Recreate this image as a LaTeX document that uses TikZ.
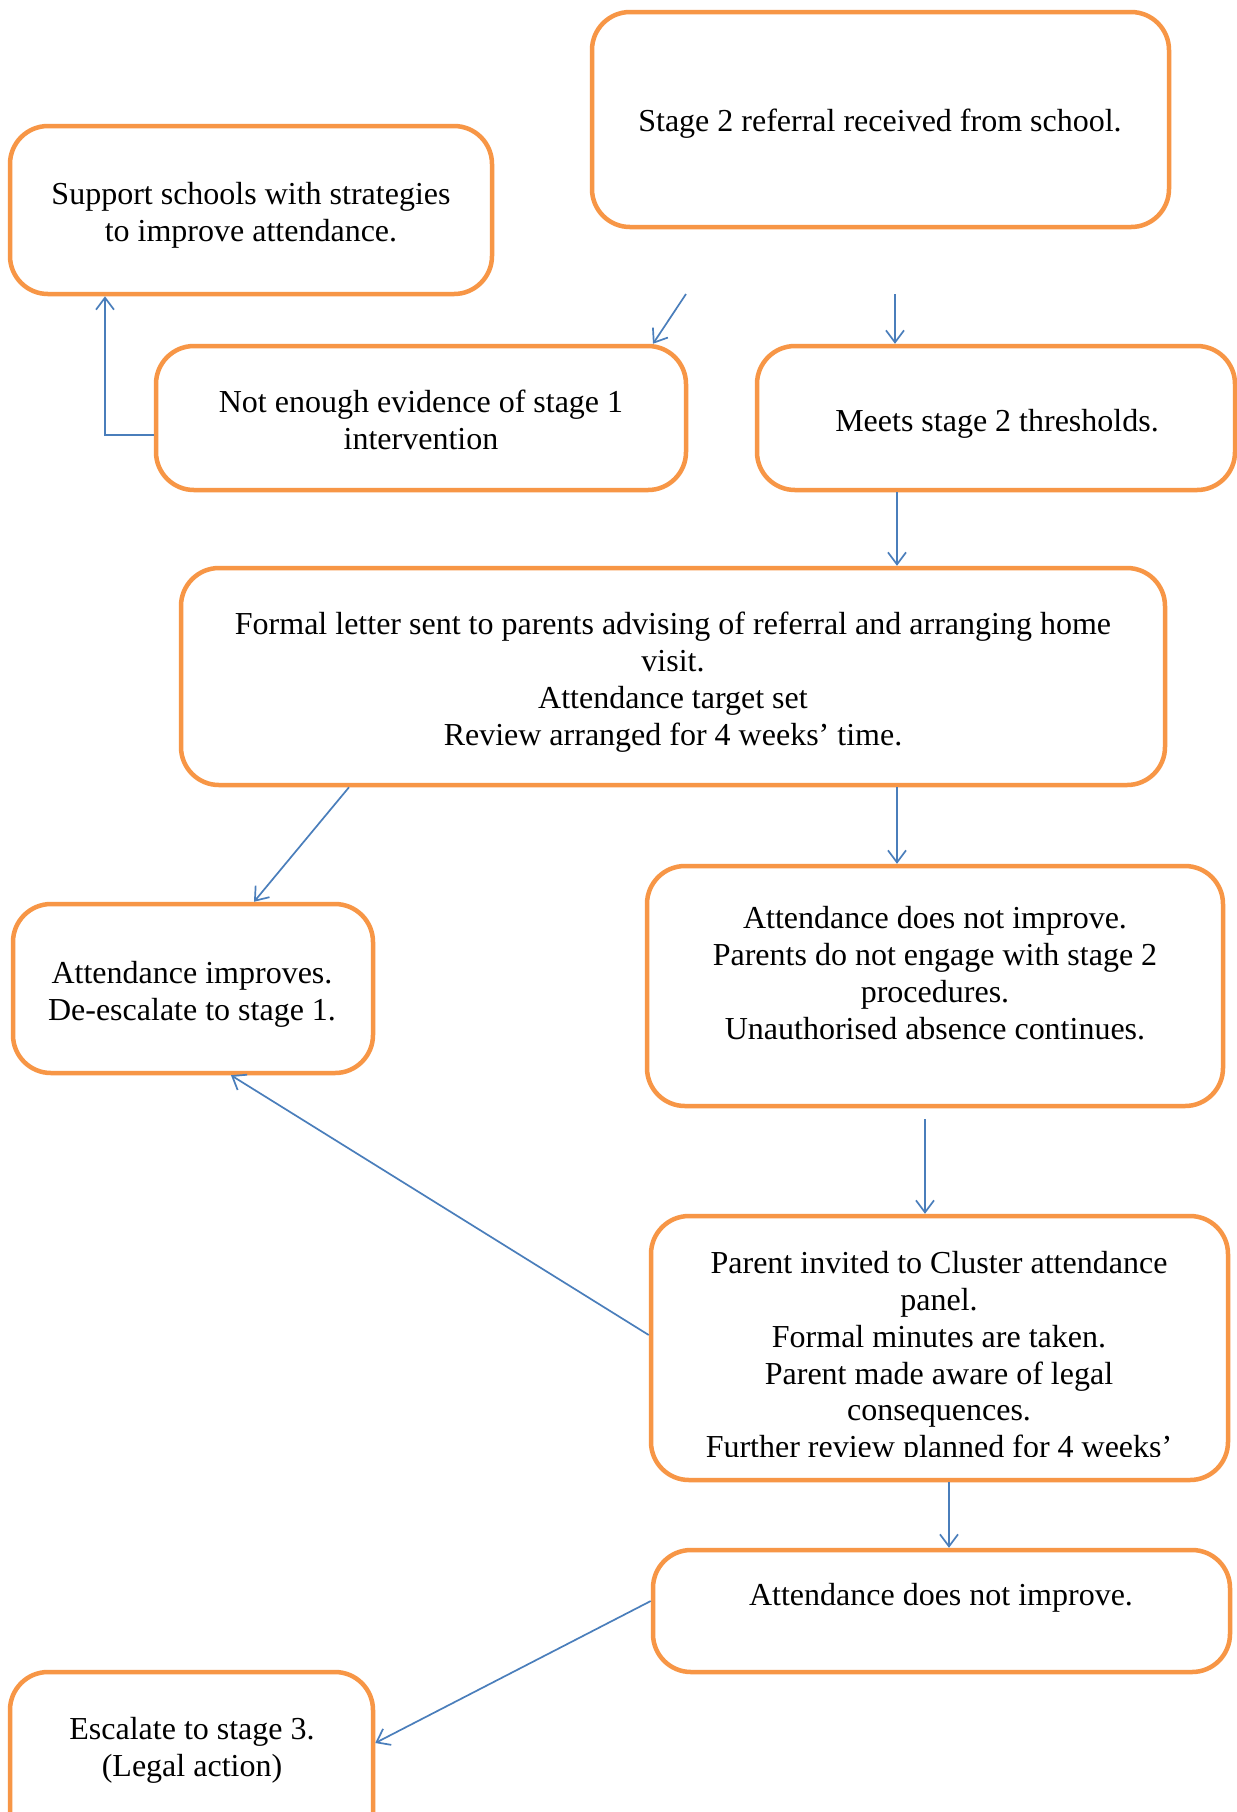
\documentclass[tikz,border=0pt]{standalone}
\usepackage{fontspec}
\setmainfont{Liberation Serif}
\usetikzlibrary{arrows.meta,fit}
\definecolor{boxorange}{HTML}{F79646}
\definecolor{arrblue}{HTML}{4A7EBB}
\tikzset{
  box/.style={draw=boxorange, line width=2.25pt, rounded corners=19pt, inner sep=0pt, fill=none},
  txt/.style={font=\fontsize{16pt}{18.4pt}\selectfont, align=center, inner sep=0pt},
  arr/.style={draw=arrblue, line width=0.85pt, -{Straight Barb[length=6pt,width=9pt]}},
}
\begin{document}
\begin{tikzpicture}[x=0.5pt,y=-0.5pt]
\clip (0,0) rectangle (1237,1812);
\fill[white] (0,0) rectangle (1237,1812);
% boxes
\node[box, fit={(592,12) (1169,227)}] (stage) {};
\node[box, fit={(10,126) (492,294)}] (sup) {};
\node[box, fit={(156,346) (686,490)}] (ne) {};
\node[box, fit={(757,346) (1235,490)}] (meets) {};
\node[box, fit={(181,568) (1165,785)}] (formal) {};
\node[box, fit={(13,904) (373,1073)}] (imp) {};
\node[box, fit={(647,866) (1223,1106)}] (notimp) {};
\node[box, fit={(651,1216) (1228,1480)}] (panel) {};
\node[box, fit={(653,1550) (1230,1672)}] (notimp2) {};
\node[box, fit={(10,1672) (373,1860)}] (esc) {};
% texts
\node[txt] (stage-t) at (880,124) {Stage 2 referral received from school.};
\node[txt] (sup-t) at (251,215) {Support schools with strategies\\to improve attendance.};
\node[txt] (ne-t) at (421,420) {Not enough evidence of stage 1\\intervention};
\node[txt] (meets-t) at (997,424) {Meets stage 2 thresholds.};
\node[txt] (formal-t) at (673,682) {Formal letter sent to parents advising of referral and arranging home\\visit.\\Attendance target set\\Review arranged for 4 weeks’ time.};
\node[txt] (imp-t) at (192,994) {Attendance improves.\\De-escalate to stage 1.};
\node[txt] (notimp-t) at (935,973) {Attendance does not improve.\\Parents do not engage with stage 2\\procedures.\\Unauthorised absence continues.};
\begin{scope}
\clip (651,1216) rectangle (1228,1456);
\node[txt] (panel-t) at (939,1358) {Parent invited to Cluster attendance\\panel.\\Formal minutes are taken.\\Parent made aware of legal\\consequences.\\Further review planned for 4 weeks’};
\end{scope}
\node[txt] (notimp2-t) at (941,1598) {Attendance does not improve.};
\node[txt] (esc-t) at (192,1750) {Escalate to stage 3.\\(Legal action)};
% helper coordinates
\coordinate (s1) at (686,294);
\coordinate (x653) at (653,0);
\coordinate (s2) at (895,294);
\coordinate (k3) at (105,435);
\coordinate (x897) at (897,0);
\coordinate (x349) at (349,0);
\coordinate (x254) at (254,0);
\coordinate (s7) at (925,1119);
\coordinate (y1335) at (0,1335);
\coordinate (x231) at (231,0);
\coordinate (x949) at (949,0);
\coordinate (y1601) at (0,1601);
\coordinate (y1743) at (0,1743);
% connectors
\draw[arr] (s1) -- (x653 |- ne.north);
\draw[arr] (s2) -- (s2 |- meets.north);
\draw[arr] (k3 -| ne.west) -- (k3) -- (k3 |- sup.south);
\draw[arr] (x897 |- meets.south) -- (x897 |- formal.north);
\draw[arr] (x349 |- formal.south) -- (x254 |- imp.north);
\draw[arr] (x897 |- formal.south) -- (x897 |- notimp.north);
\draw[arr] (s7) -- (s7 |- panel.north);
\draw[arr] (panel.west |- y1335) -- (x231 |- imp.south);
\draw[arr] (x949 |- panel.south) -- (x949 |- notimp2.north);
\draw[arr] (notimp2.west |- y1601) -- (esc.east |- y1743);
\end{tikzpicture}
\end{document}
